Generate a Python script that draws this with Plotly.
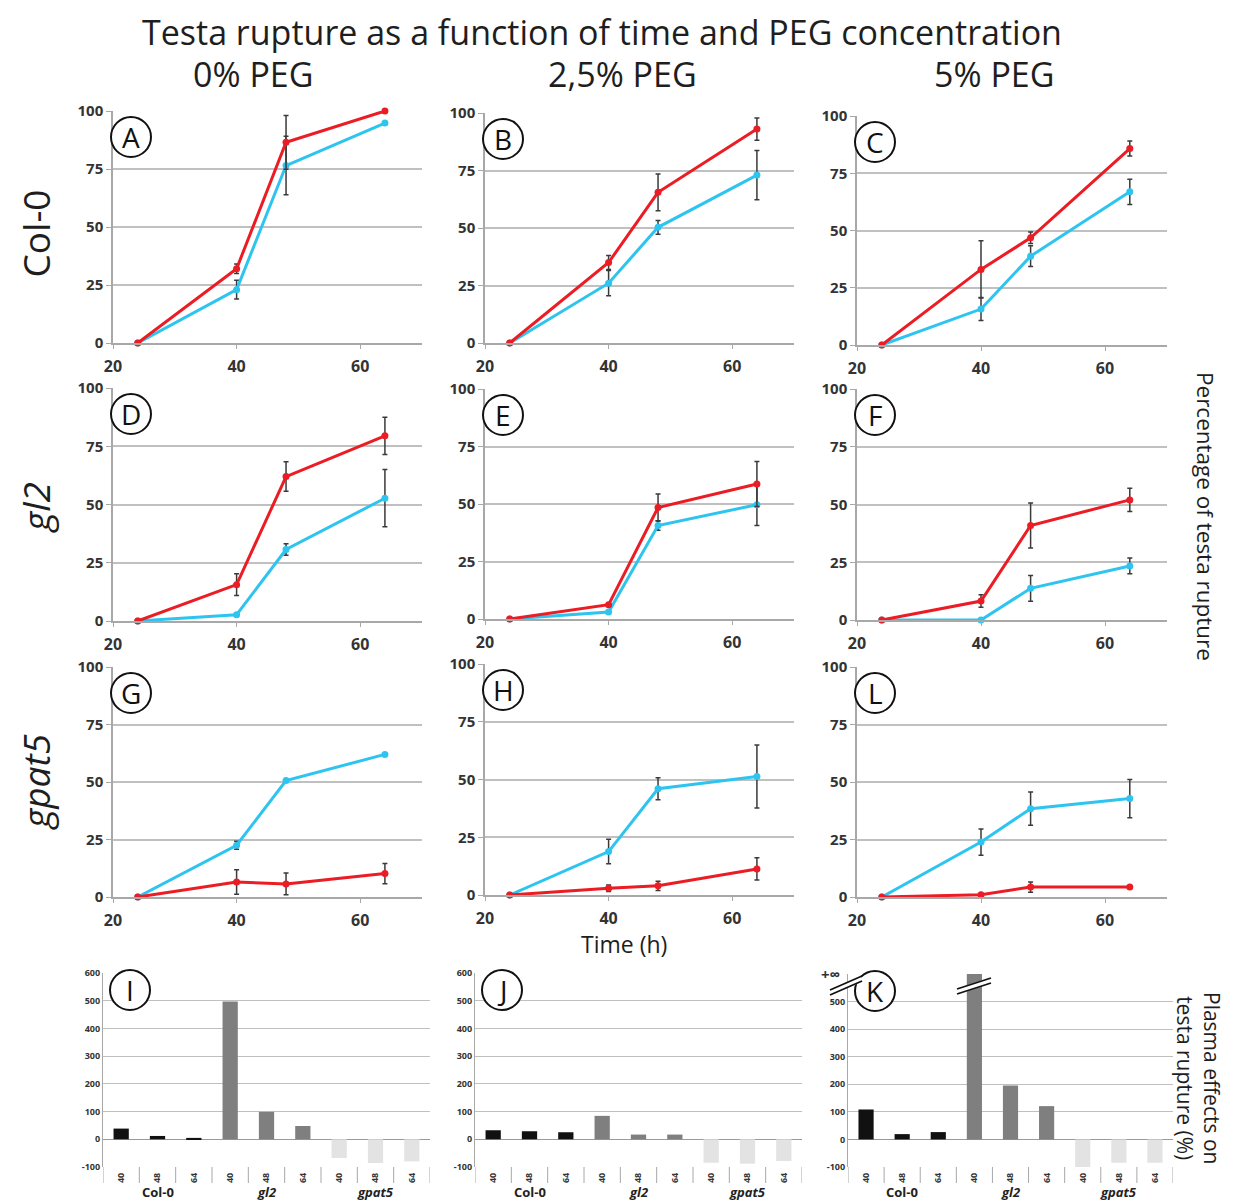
import plotly.graph_objects as go

W, H = 1238, 1203
OFF = 8  # page body margin of the rendered html
def fx(p): return (p - OFF) / W
def fy(p): return 1 - (p - OFF) / H

# ---------------- data ----------------
times = [24, 40, 48, 64]

A_red = [0, 32, 86.5, 100];      A_red_err = [0, 2, 11.6, 0]
A_cyan = [0, 23, 76.5, 94.8];    A_cyan_err = [0, 4, 12.6, 0]
B_red = [0, 35, 65.5, 93];       B_red_err = [0, 3, 8, 4.8]
B_cyan = [0, 26, 50.3, 73];      B_cyan_err = [0, 5.5, 3, 10.7]
C_red = [0, 33, 46.8, 85.8];     C_red_err = [0, 12.5, 2.5, 3.3]
C_cyan = [0, 15.7, 38.8, 66.9];  C_cyan_err = [0, 5, 4.5, 5.5]
D_red = [0, 15.6, 62, 79.5];     D_red_err = [0, 4.7, 6.3, 8]
D_cyan = [0, 2.7, 30.7, 52.7];   D_cyan_err = [0, 0, 2.5, 12.3]
E_red = [0, 6.2, 48.5, 58.7];    E_red_err = [0, 0, 5.8, 9.8]
E_cyan = [0, 3, 40.6, 49.7];     E_cyan_err = [0, 0, 2, 9]
F_red = [0, 8.2, 40.9, 52];      F_red_err = [0, 2.7, 9.7, 5]
F_cyan = [0, 0, 13.7, 23.4];     F_cyan_err = [0, 0, 5.6, 3.4]
G_red = [0, 6.5, 5.7, 10.2];     G_red_err = [0, 5.3, 4.7, 4.4]
G_cyan = [0, 22.5, 50.6, 62];    G_cyan_err = [0, 1.7, 0, 0]
H_red = [0, 2.9, 4, 11.3];       H_red_err = [0, 1.4, 2, 4.8]
H_cyan = [0, 18.8, 46, 51.3];    H_cyan_err = [0, 5.3, 4.8, 13.6]
L_red = [0, 1, 4.3, 4.3];        L_red_err = [0, 0, 2.2, 0]
L_cyan = [0, 23.9, 38.4, 42.8];  L_cyan_err = [0, 5.7, 7.2, 8.3]

bar_genotypes = ["Col-0", "gl2", "gpat5"]
bar_times = ["40", "48", "64"]
I_vals = [38.6, 12, 5, 497.6, 99, 48, -67.6, -85.7, -79.7]
J_vals = [32.6, 29, 25.4, 84.5, 17, 17, -84.5, -88, -78.5]
K_vals = [108.6, 19.3, 26.6, float("inf"), 195.7, 120.8, -100, -84.5, -84.5]

y_ticks = [0, 25, 50, 75, 100]
x_ticks = [20, 40, 60]
bar_y_ticks = [-100, 0, 100, 200, 300, 400, 500, 600]

# ---------------- styles ----------------
RED = "#ec1c24"
CYAN = "#2ec4f0"
GENO_COL = {"Col-0": "#111111", "gl2": "#7f7f7f", "gpat5": "#e3e3e3"}
GRID = "#c0c0c0"
AXC = "#a8a8a8"
FONT = "Open Sans"
TXT = "#1e1e1e"

fig = go.Figure()

line_panels = [
    ("A", A_red, A_red_err, A_cyan, A_cyan_err, (113, 422, 111, 343)),
    ("B", B_red, B_red_err, B_cyan, B_cyan_err, (485, 794, 113, 343)),
    ("C", C_red, C_red_err, C_cyan, C_cyan_err, (857, 1167, 116, 345)),
    ("D", D_red, D_red_err, D_cyan, D_cyan_err, (113, 422, 388, 621)),
    ("E", E_red, E_red_err, E_cyan, E_cyan_err, (485, 794, 389, 619)),
    ("F", F_red, F_red_err, F_cyan, F_cyan_err, (857, 1167, 389, 620)),
    ("G", G_red, G_red_err, G_cyan, G_cyan_err, (113, 422, 667, 897)),
    ("H", H_red, H_red_err, H_cyan, H_cyan_err, (485, 794, 664, 895)),
    ("L", L_red, L_red_err, L_cyan, L_cyan_err, (857, 1167, 667, 897)),
]

bar_panels = [
    ("I", I_vals, (103, 430, 973, 1167), False),
    ("J", J_vals, (475, 802, 973, 1167), False),
    ("K", K_vals, (848, 1173, 974, 1167), True),
]

layout = dict(
    width=W, height=H, autosize=False,
    margin=dict(l=0, r=0, t=0, b=0, autoexpand=False),
    paper_bgcolor="white", plot_bgcolor="white",
    showlegend=False,
    font=dict(family=FONT, color=TXT),
)
shapes = []
annotations = []

def circle_letter(letter, cx, cy, r=20):
    shapes.append(dict(type="circle", xref="paper", yref="paper",
                       x0=fx(cx - r), x1=fx(cx + r), y0=fy(cy + r), y1=fy(cy - r),
                       line=dict(color="#111111", width=2), fillcolor="white", layer="above"))
    annotations.append(dict(text=letter, xref="paper", yref="paper", x=fx(cx), y=fy(cy),
                            xanchor="center", yanchor="middle", showarrow=False,
                            font=dict(size=28, family=FONT, color="#111111")))

idx = 0
for letter, red, red_e, cyan, cyan_e, (x0, x1, yt, yb) in line_panels:
    idx += 1
    sx = "" if idx == 1 else str(idx)
    xa, ya = "x" + sx, "y" + sx
    for vals, errs, col in ((cyan, cyan_e, CYAN), (red, red_e, RED)):
        fig.add_trace(go.Scatter(
            x=times, y=vals, xaxis=xa, yaxis=ya, mode="lines+markers",
            line=dict(color=col, width=3), marker=dict(color=col, size=7),
            error_y=dict(type="data", array=errs, visible=True, color="#3a3a3a",
                         thickness=1.5, width=2.5),
            cliponaxis=False, hoverinfo="skip"))
    layout["xaxis" + sx] = dict(
        domain=[fx(x0), fx(x1)], anchor=ya, range=[20, 70],
        tickvals=x_ticks, showgrid=False, zeroline=False,
        showline=True, linecolor=AXC, linewidth=1.5, automargin=False,
        ticks="outside", ticklen=4, tickcolor=AXC, ticklabelstandoff=4,
        tickfont=dict(size=16, family=FONT, color="#333333", weight="bold"))
    layout["yaxis" + sx] = dict(
        domain=[fy(yb), fy(yt)], anchor=xa, range=[0, 100],
        tickvals=y_ticks, showgrid=True, gridcolor=GRID, gridwidth=1.5,
        zeroline=False, showline=True, linecolor=AXC, linewidth=1.5, automargin=False,
        ticks="outside", ticklen=5, tickcolor=AXC,
        tickfont=dict(size=15, family=FONT, color="#333333", weight="bold"))
    circle_letter(letter, x0 + 18, yt + 26)

for letter, vals, (x0, x1, yt, yb), infinite in bar_panels:
    idx += 1
    sx = str(idx)
    xa, ya = "x" + sx, "y" + sx
    ymax = bar_y_ticks[-1]
    cats = []
    for g in bar_genotypes:
        for t in bar_times:
            cats.append(g)
    xs = list(range(len(vals)))
    shown = [min(v, ymax) for v in vals]
    fig.add_trace(go.Bar(
        x=xs, y=shown, xaxis=xa, yaxis=ya,
        marker=dict(color=[GENO_COL[c] for c in cats], line=dict(width=0)),
        width=0.42, hoverinfo="skip"))
    ticktext = [str(v) for v in bar_y_ticks]
    if infinite:
        ticktext[-1] = " "
        annotations.append(dict(text="+\u221e", xref="paper", yref=ya, x=fx(x0 - 6),
                                y=ymax, xanchor="right", yanchor="middle", showarrow=False,
                                font=dict(size=15, family=FONT, color="#333333", weight="bold")))
    layout["xaxis" + sx] = dict(
        domain=[fx(x0), fx(x1)], anchor=ya, range=[-0.5, len(vals) - 0.5],
        tickvals=xs, ticktext=bar_times * len(bar_genotypes), tickangle=-90,
        showgrid=False, zeroline=False, showline=False, ticks="", automargin=False,
        tickfont=dict(size=9, family=FONT, color="#333333", weight="bold"),
        ticklabelstandoff=3)
    layout["yaxis" + sx] = dict(
        domain=[fy(yb), fy(yt)], anchor=xa, range=[bar_y_ticks[0], ymax],
        tickvals=bar_y_ticks, ticktext=ticktext, automargin=False,
        showgrid=True, gridcolor=GRID, gridwidth=1.2,
        zeroline=True, zerolinecolor="#9a9a9a", zerolinewidth=1.2,
        showline=True, linecolor=AXC, linewidth=1.2,
        ticks="", tickfont=dict(size=9, family=FONT, color="#333333", weight="bold"))
    hpx = yb - yt
    for k in range(len(vals) + 1):
        shapes.append(dict(type="line", xref=xa, yref=ya + " domain",
                           x0=k - 0.5, x1=k - 0.5, y0=0, y1=-16 / hpx,
                           line=dict(color=AXC, width=1)))
    for gi, g in enumerate(bar_genotypes):
        annotations.append(dict(
            text=g if g == "Col-0" else "<i>" + g + "</i>",
            xref=xa, yref=ya + " domain", x=gi * 3 + 1, y=-(1192 - yb) / hpx,
            xanchor="center", yanchor="middle", showarrow=False,
            font=dict(size=13, family=FONT, color="#222222", weight="bold")))
    circle_letter(letter, x0 + 27, yt + 17, r=20)

def slash_pair(xa_, ya_, xb_, yb_, gap=5, white=False):
    if white:
        shapes.append(dict(type="line", xref="paper", yref="paper",
                           x0=fx(xa_), y0=fy(ya_ + gap / 2), x1=fx(xb_), y1=fy(yb_ + gap / 2),
                           line=dict(color="white", width=gap + 1), layer="above"))
    for off in (0, gap):
        shapes.append(dict(type="line", xref="paper", yref="paper",
                           x0=fx(xa_), y0=fy(ya_ + off), x1=fx(xb_), y1=fy(yb_ + off),
                           line=dict(color="#111111", width=1.8), layer="above"))

slash_pair(830, 990, 862, 976, gap=5, white=True)
slash_pair(957, 989, 991, 978, gap=5, white=True)

text_items = [
    dict(text="Testa rupture as a function of time and PEG concentration",
         x=fx(602), y=1, yanchor="top", font=dict(size=34)),
    dict(text="0% PEG", x=fx(253), y=fy(74), font=dict(size=34)),
    dict(text="2,5% PEG", x=fx(622), y=fy(74), font=dict(size=34)),
    dict(text="5% PEG", x=fx(994), y=fy(74), font=dict(size=34)),
    dict(text="Col-0", x=0, xanchor="left", y=fy(234), textangle=-90, font=dict(size=37)),
    dict(text="<i>gl2</i>", x=fx(35), y=fy(508), textangle=-90, font=dict(size=37)),
    dict(text="<i>gpat5</i>", x=fx(35), y=fy(782), textangle=-90, font=dict(size=37)),
    dict(text="Percentage of testa rupture", x=fx(1205), y=fy(516), textangle=90,
         font=dict(size=22.5)),
    dict(text="Time (h)", x=fx(624), y=fy(944), font=dict(size=23)),
    dict(text="Plasma effects on<br>testa rupture (%)", x=fx(1199), y=fy(1078),
         textangle=90, font=dict(size=21)),
]
for a in text_items:
    a.setdefault("xanchor", "center")
    a.setdefault("yanchor", "middle")
    a.update(xref="paper", yref="paper", showarrow=False, borderpad=0)
    a["font"].setdefault("family", FONT)
    a["font"].setdefault("color", TXT)
annotations += text_items

layout["shapes"] = shapes
layout["annotations"] = annotations
fig.update_layout(**layout)
fig.write_html("out.html")
